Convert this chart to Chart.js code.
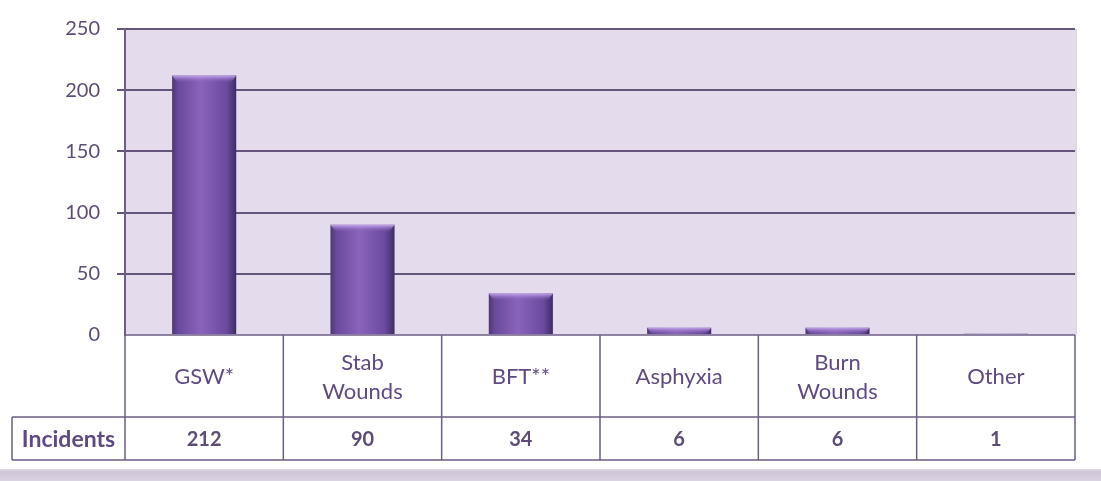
<!DOCTYPE html>
<html>
<head>
<meta charset="utf-8">
<script src="https://cdn.jsdelivr.net/npm/chart.js@4/dist/chart.umd.min.js"></script>
<style>
  html, body { margin: 0; padding: 0; background: #ffffff; }
  #wrap { position: relative; width: 1101px; height: 481px; }
</style>
</head>
<body>
<div id="wrap"><canvas id="incidentChart" width="1101" height="481"></canvas></div>
<script>
// Chart data
const categories = ['GSW*', 'Stab Wounds', 'BFT**', 'Asphyxia', 'Burn Wounds', 'Other'];
const categoryLines = [['GSW*'], ['Stab', 'Wounds'], ['BFT**'], ['Asphyxia'], ['Burn', 'Wounds'], ['Other']];
const incidents = [212, 90, 34, 6, 6, 1];
const rowLabel = 'Incidents';
const yTicks = [0, 50, 100, 150, 200, 250];

const textColor = '#5d4c76';
const labelColor = '#5f4a82';
const lineColor = '#6e5e86';
const fontFamily = 'Lato, "Open Sans", sans-serif';

// Plot background and bottom strip
const backgroundPlugin = {
    id: 'plotBackground',
    beforeDraw(chart) {
        const { ctx, chartArea } = chart;
        ctx.save();
        ctx.fillStyle = '#e4dced';
        ctx.fillRect(chartArea.left, chartArea.top, chartArea.right - chartArea.left, chartArea.bottom - chartArea.top);
        // soft shadow on right edge
        ctx.fillStyle = 'rgba(120,110,130,0.25)';
        ctx.fillRect(chartArea.right, chartArea.top, 2, chartArea.bottom - chartArea.top);
        // bottom strip
        const g = ctx.createLinearGradient(0, 468, 0, 481);
        g.addColorStop(0, '#e6e0ea');
        g.addColorStop(0.3, '#cfc6d8');
        g.addColorStop(1, '#d9d2e0');
        ctx.fillStyle = g;
        ctx.fillRect(0, 469, chart.width, 12);
        ctx.restore();
    }
};

// Shaded bars with a lighter top cap
const barShadePlugin = {
    id: 'barShade',
    beforeDatasetsDraw(chart) {
        const { ctx } = chart;
        chart.getDatasetMeta(0).data.forEach(el => {
            const half = el.width / 2;
            const g = ctx.createLinearGradient(el.x - half, 0, el.x + half, 0);
            g.addColorStop(0, '#4e3778');
            g.addColorStop(0.1, '#6a4a9c');
            g.addColorStop(0.45, '#8a63bb');
            g.addColorStop(0.85, '#6b4a9e');
            g.addColorStop(1, '#3f2c63');
            el.options.backgroundColor = g;
        });
    },
    afterDatasetsDraw(chart) {
        const { ctx } = chart;
        ctx.save();
        chart.getDatasetMeta(0).data.forEach(el => {
            const half = el.width / 2;
            const h = Math.min(7, el.base - el.y);
            if (h < 2) return;
            const g = ctx.createLinearGradient(0, el.y, 0, el.y + h);
            g.addColorStop(0, '#c4a8ec');
            g.addColorStop(1, 'rgba(140,100,190,0)');
            ctx.fillStyle = g;
            ctx.beginPath();
            ctx.moveTo(el.x - half, el.y);
            ctx.lineTo(el.x + half, el.y);
            ctx.lineTo(el.x + half - 5, el.y + h);
            ctx.lineTo(el.x - half + 5, el.y + h);
            ctx.closePath();
            ctx.fill();
        });
        ctx.restore();
    }
};

// Data table under the plot
const dataTablePlugin = {
    id: 'dataTable',
    afterDraw(chart) {
        const { ctx, chartArea } = chart;
        const xScale = chart.scales.x;
        const top = chartArea.bottom;
        const mid = 417;
        const bottom = 460;
        const labelLeft = 12;
        const colW = (chartArea.right - chartArea.left) / categories.length;

        ctx.save();
        ctx.fillStyle = '#ffffff';
        ctx.fillRect(chartArea.left, top + 1, chartArea.right - chartArea.left, bottom - top - 1);
        ctx.fillRect(labelLeft, mid, chartArea.left - labelLeft, bottom - mid);

        ctx.strokeStyle = lineColor;
        ctx.lineWidth = 1.5;
        ctx.beginPath();
        // horizontal lines
        ctx.moveTo(chartArea.left, top); ctx.lineTo(chartArea.right, top);
        ctx.moveTo(labelLeft, mid); ctx.lineTo(chartArea.right, mid);
        ctx.moveTo(labelLeft, bottom); ctx.lineTo(chartArea.right, bottom);
        // vertical lines
        ctx.moveTo(labelLeft, mid); ctx.lineTo(labelLeft, bottom);
        for (let i = 0; i <= categories.length; i++) {
            const x = chartArea.left + i * colW;
            ctx.moveTo(x, top); ctx.lineTo(x, bottom);
        }
        ctx.stroke();

        ctx.fillStyle = labelColor;
        ctx.textAlign = 'center';
        ctx.textBaseline = 'middle';
        ctx.font = '22px ' + fontFamily;
        categoryLines.forEach((lines, i) => {
            const x = xScale.getPixelForValue(i);
            const cy = (top + mid) / 2 + 1;
            const lh = 29;
            lines.forEach((line, j) => {
                ctx.fillText(line, x, cy + (j - (lines.length - 1) / 2) * lh);
            });
        });
        const rowY = (mid + bottom) / 2 + 1;
        ctx.fillStyle = textColor;
        ctx.font = 'bold 20px ' + fontFamily;
        incidents.forEach((v, i) => {
            ctx.fillText(String(v), xScale.getPixelForValue(i), rowY);
        });
        ctx.fillStyle = labelColor;
        ctx.font = 'bold 23px ' + fontFamily;
        ctx.fillText(rowLabel, (labelLeft + chartArea.left) / 2, rowY);
        ctx.restore();
    }
};

function createIncidentChart() {
    const ctx = document.getElementById('incidentChart');
    if (!ctx) return;

    new Chart(ctx, {
        type: 'bar',
        data: {
            labels: categories,
            datasets: [{
                label: rowLabel,
                data: incidents,
                backgroundColor: () => '#7a55a8',
                borderWidth: 0,
                categoryPercentage: 1,
                barPercentage: 0.405
            }]
        },
        options: {
            responsive: false,
            animation: false,
            events: [],
            layout: {
                padding: { left: 0, right: 26, top: 22, bottom: 146 }
            },
            scales: {
                x: {
                    display: false
                },
                y: {
                    min: 0,
                    max: 250,
                    afterFit: s => { s.width = 125; },
                    afterBuildTicks: s => { s.ticks = yTicks.map(v => ({ value: v })); },
                    border: { display: true, color: lineColor, width: 2 },
                    grid: {
                        color: ctx => ctx.tick && ctx.tick.value === 0 ? 'rgba(0,0,0,0)' : '#65557d',
                        lineWidth: 2,
                        tickLength: 8,
                        drawTicks: true
                    },
                    ticks: {
                        color: textColor,
                        padding: 17,
                        font: { family: fontFamily, size: 20 }
                    }
                }
            },
            plugins: {
                legend: { display: false },
                tooltip: { enabled: false }
            }
        },
        plugins: [backgroundPlugin, barShadePlugin, dataTablePlugin]
    });
}

document.addEventListener('DOMContentLoaded', createIncidentChart);
</script>
</body>
</html>
